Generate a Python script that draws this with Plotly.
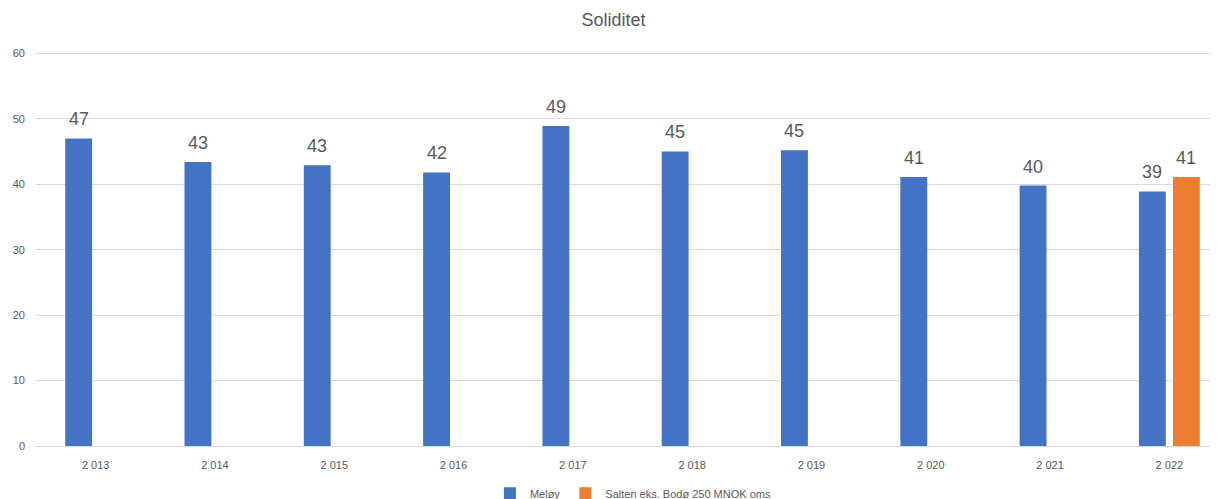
import plotly.graph_objects as go

years = ["2 013", "2 014", "2 015", "2 016", "2 017", "2 018", "2 019", "2 020", "2 021", "2 022"]
meloy = [47.0, 43.4, 42.9, 41.8, 48.9, 45.0, 45.2, 41.1, 39.8, 38.9]
salten_years = ["2 022"]
salten = [41.1]

grey = "#595959"
font_family = "Liberation Sans, Arial, sans-serif"

fig = go.Figure()
fig.add_trace(go.Bar(
    x=years, y=meloy, name="Meløy", marker_color="#4472C4",
    marker_line_width=0,
))
fig.add_trace(go.Bar(
    x=salten_years, y=salten, name="Salten eks. Bodø 250 MNOK oms", marker_color="#ED7D31",
    marker_line_width=0,
))

# data labels above bars (offset per series within the group)
for xs, ys, shift in [(years, meloy, -17), (salten_years, salten, 17)]:
    for xv, yv in zip(xs, ys):
        fig.add_annotation(x=xv, y=yv, xref="x", yref="y", text=f"{yv:.0f}",
                           showarrow=False, yanchor="bottom", yshift=7, xshift=shift,
                           font=dict(size=18, color=grey))

fig.update_layout(
    width=1211, height=491,
    paper_bgcolor="white", plot_bgcolor="white",
    font=dict(family=font_family, color=grey, size=11),
    title=dict(text="Soliditet", x=0.5, xanchor="center", y=0.976, yanchor="middle",
               font=dict(size=18, color=grey)),
    margin=dict(l=28, r=0, t=44, b=53, autoexpand=False),
    barmode="group", bargap=0.43, bargroupgap=0.21,
    showlegend=True,
    legend=dict(orientation="h", x=0.505, xanchor="center", y=-0.12, yanchor="middle",
                font=dict(size=11, color=grey), itemwidth=30, traceorder="normal"),
    xaxis=dict(type="category", categoryorder="array", categoryarray=years,
               range=[-0.5, 9.416],
               showgrid=False, showline=True, linecolor="#d9d9d9", linewidth=1,
               ticks="", ticklabelstandoff=9, tickfont=dict(size=11, color=grey)),
    yaxis=dict(range=[0, 60.2], dtick=10, showgrid=True, gridcolor="#d9d9d9",
               zeroline=False, showline=False, ticks="", ticklabelstandoff=10,
               tickfont=dict(size=11, color=grey)),
)

fig.write_html("out.html")
